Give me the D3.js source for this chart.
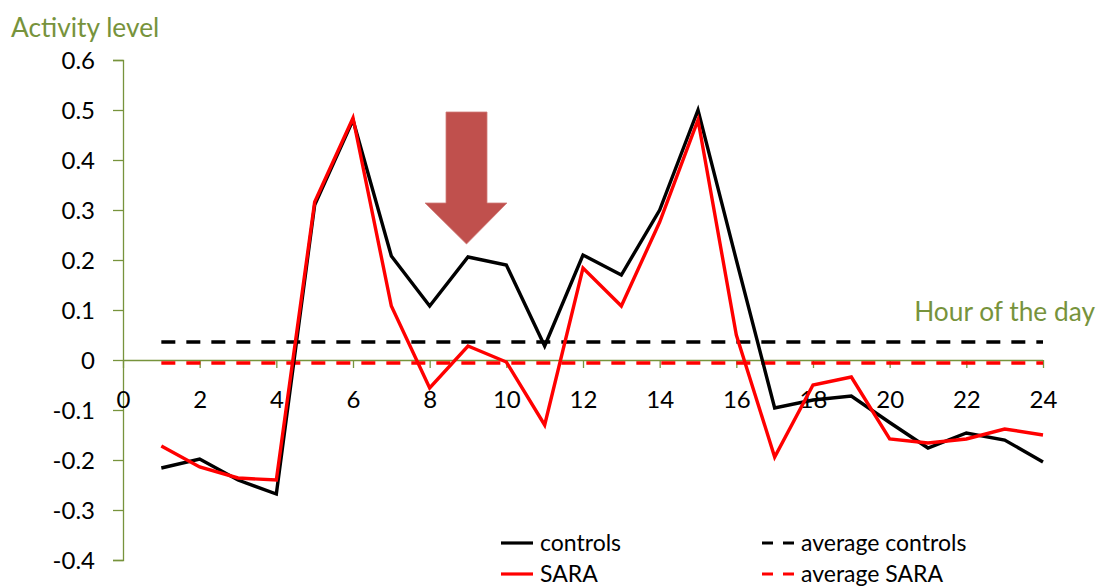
<!DOCTYPE html>
<html><head><meta charset="utf-8">
<script src="https://cdn.jsdelivr.net/npm/d3@7"></script>
<style>body{margin:0;background:#fff}svg{display:block}text{font-family:Lato,"Open Sans",sans-serif}</style>
</head><body><svg id="c" width="1096" height="586"></svg>
<script>
const hours = [1,2,3,4,5,6,7,8,9,10,11,12,13,14,15,16,17,18,19,20,21,22,23,24];
const controls = [-0.216,-0.198,-0.24,-0.268,0.31,0.48,0.208,0.108,0.206,0.19,0.028,0.21,0.17,0.30,0.50,0.2,-0.096,-0.08,-0.072,-0.125,-0.176,-0.146,-0.16,-0.204];
const sara = [-0.172,-0.214,-0.236,-0.24,0.316,0.484,0.108,-0.056,0.028,-0.004,-0.13,0.184,0.108,0.276,0.48,0.05,-0.194,-0.05,-0.034,-0.158,-0.166,-0.158,-0.138,-0.15];
const avgControls = 0.036;
const avgSara = -0.006;
const xTicks = [0,2,4,6,8,10,12,14,16,18,20,22,24];
const yTicks = [-0.4,-0.3,-0.2,-0.1,0,0.1,0.2,0.3,0.4,0.5,0.6];
const yTickLabels = ["-0.4","-0.3","-0.2","-0.1","0","0.1","0.2","0.3","0.4","0.5","0.6"];
const legendItems = [
  {label:"controls", color:"#000", dash:null, col:0,row:0},
  {label:"SARA", color:"#ff0000", dash:null, col:0,row:1},
  {label:"average controls", color:"#000", dash:"11,10", col:1,row:0},
  {label:"average SARA", color:"#ff0000", dash:"11,10", col:1,row:1}
];

const svg = d3.select("#c");
const axisColor = "#77933C";
const x = d3.scaleLinear().domain([0,24]).range([123,1043]);
const y = d3.scaleLinear().domain([-0.4,0.6]).range([560,60]);

// y axis
const yAxis = d3.axisLeft(y).tickValues(yTicks).tickSize(10).tickFormat((d,i)=>yTickLabels[i]);
const gy = svg.append("g").attr("transform","translate(123,0)").call(yAxis);
gy.select(".domain").attr("stroke",axisColor).attr("stroke-width",1.3).attr("d","M-10,60.5H0.5V560.5H-10");
gy.selectAll(".tick line").attr("stroke",axisColor).attr("stroke-width",1.3);
gy.selectAll(".tick text").attr("font-size",24).attr("fill","#000").attr("x",-28).attr("dy","0.35em").attr("font-family","Lato");

// x axis
const xAxis = d3.axisBottom(x).tickValues(xTicks).tickSize(8).tickFormat(d=>d);
const gx = svg.append("g").attr("transform",`translate(0,${y(0)})`).call(xAxis);
gx.select(".domain").attr("stroke",axisColor).attr("stroke-width",1.3).attr("d","M123,0.5H1043");
gx.selectAll(".tick line").attr("stroke",axisColor).attr("stroke-width",1.3);
gx.selectAll(".tick text").attr("font-size",24).attr("fill","#000").attr("y",40).attr("dy","0.35em").attr("font-family","Lato");

// axis titles
svg.append("text").attr("x",11).attr("y",37).attr("font-size",26.3).attr("fill",axisColor).text("Activity level");
svg.append("text").attr("x",1095).attr("y",321).attr("text-anchor","end").attr("font-size",26.3).attr("fill",axisColor).text("Hour of the day");

// average lines
svg.append("line").attr("x1",x(1)).attr("x2",x(24)).attr("y1",y(avgControls)).attr("y2",y(avgControls))
  .attr("stroke","#000").attr("stroke-width",3.5).attr("stroke-dasharray","14,11");
svg.append("line").attr("x1",x(1)).attr("x2",x(24)).attr("y1",y(avgSara)).attr("y2",y(avgSara))
  .attr("stroke","#ff0000").attr("stroke-width",3.5).attr("stroke-dasharray","14,11");

const line = d3.line().x((d,i)=>x(hours[i])).y(d=>y(d));
svg.append("path").datum(controls).attr("d",line).attr("fill","none").attr("stroke","#000").attr("stroke-width",3.4).attr("stroke-linejoin","miter");
svg.append("path").datum(sara).attr("d",line).attr("fill","none").attr("stroke","#ff0000").attr("stroke-width",3.4).attr("stroke-linejoin","miter");

// arrow (annotation)
const ax = 466.5;
const arrow = [[ax-20.5,112],[ax+20.5,112],[ax+20.5,203],[ax+40.5,203],[ax,244],[ax-41.5,203],[ax-20.5,203]];
svg.append("path").attr("d","M"+arrow.map(p=>p.join(",")).join("L")+"Z").attr("fill","#C0504D").attr("stroke","#D07C7A").attr("stroke-width",0.8);

// legend
const lg = svg.append("g");
legendItems.forEach(it=>{
  const lx = it.col===0 ? 501 : 762;
  const ly = 543 + it.row*31;
  lg.append("line").attr("x1",lx).attr("x2",lx+32).attr("y1",ly).attr("y2",ly)
    .attr("stroke",it.color).attr("stroke-width",3.2).attr("stroke-dasharray",it.dash);
  lg.append("text").attr("x",lx+39).attr("y",ly).attr("dy","0.35em").attr("font-size",23).attr("fill","#000").text(it.label);
});
</script></body></html>
